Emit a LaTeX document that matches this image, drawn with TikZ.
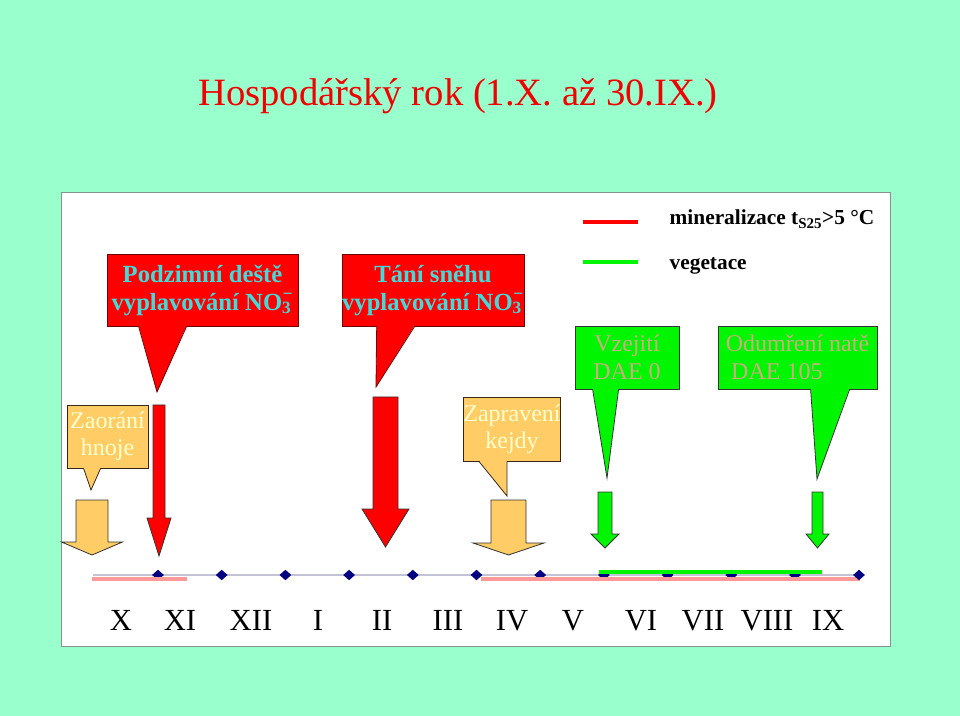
\documentclass[tikz,border=0pt]{standalone}
\usepackage{fontspec}
\setmainfont{Liberation Serif}
\usepackage{xcolor}
\definecolor{mint}{RGB}{153,255,204}
\definecolor{panelgray}{RGB}{130,150,140}
\definecolor{titlered}{RGB}{240,0,0}
\definecolor{calred}{RGB}{255,0,0}
\definecolor{darkred}{RGB}{110,0,0}
\definecolor{cyantext}{RGB}{64,220,220}
\definecolor{leaf}{RGB}{0,245,0}
\definecolor{tantext}{RGB}{200,175,125}
\definecolor{manure}{RGB}{255,204,102}
\definecolor{cream}{RGB}{255,255,204}
\definecolor{navy}{RGB}{0,0,128}
\definecolor{pinkline}{RGB}{255,153,153}
\definecolor{axisgray}{RGB}{195,195,215}
\usepackage{tikz}
\usetikzlibrary{shapes.geometric,calc}

\begin{document}
\begin{tikzpicture}[x=0.75pt, y=-0.75pt,
    redbox/.style={rectangle, fill=calred, draw=darkred, line width=0.6pt,
        inner sep=0pt, align=center, text=cyantext,
        font=\fontsize{18.5}{21}\selectfont\bfseries},
    greenbox/.style={rectangle, fill=leaf, draw=black!80, line width=0.6pt,
        inner sep=0pt, align=center, text=tantext,
        font=\fontsize{18}{21}\selectfont},
    orangebox/.style={rectangle, fill=manure, draw=black!70!brown, line width=0.6pt,
        inner sep=0pt, align=center, text=cream,
        font=\fontsize{18}{20}\selectfont},
    monthdot/.style={diamond, fill=navy, inner sep=0pt, minimum width=9pt, minimum height=8pt},
    month/.style={anchor=base, font=\fontsize{23}{25}\selectfont},
    legendtext/.style={anchor=base west, font=\fontsize{16}{18}\selectfont\bfseries}]
    % background and panel
    \fill[mint] (0,0) rectangle (960,716);
    \useasboundingbox (0,0) rectangle (960,716);
    \filldraw[fill=white, draw=panelgray, line width=0.6pt] (61,192) rectangle (890,646);
    \node (title) [anchor=base, text=titlered, font=\fontsize{29}{32}\selectfont] at (458,106)
        {Hospodářský rok (1.X. až 30.IX.)};
    % legend
    \draw[calred, line width=3pt] (583,222) -- (638,222);
    \draw[leaf, line width=3pt] (583,262) -- (638,262);
    \node (minlbl) [legendtext] at (665,225) {mineralizace t\textsubscript{S25}>5 °C};
    \node (veglbl) [legendtext] at (665,270) {vegetace};
    % callouts
    \node (rain) [redbox, minimum width=143.25pt, minimum height=54pt] at (202.5,290)
        {Podzimní deště\\vyplavování NO\rlap{\textsubscript{3}}\kern0.5pt\raisebox{2pt}{\textsuperscript{−}}};
    \node (thaw) [redbox, minimum width=132pt, minimum height=54pt] at (433,290)
        {Tání sněhu\\vyplavování NO\rlap{\textsubscript{3}}\kern0.5pt\raisebox{2pt}{\textsuperscript{−}}};
    \node (rise) [greenbox, minimum width=78pt, minimum height=47.25pt] at (627,357.5)
        {Vzejití\\DAE 0};
    \node (die) [greenbox, align=left, minimum width=119.25pt, minimum height=47.25pt] at (797.5,357.5)
        {Odumření natě\\\hspace*{4pt}DAE 105};
    \node (plough) [orangebox, minimum width=60.75pt, minimum height=47.25pt] at (107.5,436.5)
        {Zaorání\\hnoje};
    \node (slurry) [orangebox, minimum width=72pt, minimum height=48pt] at (512,429)
        {Zapravení\\kejdy};
    % callout tails
    \foreach \n/\a/\b/\tx/\ty/\col/\bd in {rain/32/80/157/392/calred/darkred,
        thaw/35/73/376/387/calred/darkred, rise/18/44/607/478/leaf/black!80,
        die/93/132/817/479/leaf/black!80, plough/17/34/91/490/manure/black!70!brown,
        slurry/16/44/507/496/manure/black!70!brown} {
        \fill[\col] ($(\n.south west)+(\a,-1)$) -- (\tx,\ty) -- ($(\n.south west)+(\b,-1)$) -- cycle;
        \draw[\bd, line width=0.6pt] ($(\n.south west)+(\a,0)$) -- (\tx,\ty) -- ($(\n.south west)+(\b,0)$);
    }
    % block arrows
    \foreach \cx/\sw/\ty/\hw/\hy/\tipy/\col in {92/16/500/30.5/542/555/manure,
        159/6/405/12/518/556/calred, 385.5/12.5/397/23.5/509/547/calred,
        508.5/17.5/500/35.5/543/555/manure, 605/7/492/14/534/548/leaf,
        817.5/5.5/492/11.5/534/548/leaf} {
        \filldraw[fill=\col, draw=black!80, line width=0.6pt]
            (\cx-\sw,\ty) -- (\cx+\sw,\ty) -- (\cx+\sw,\hy) -- (\cx+\hw,\hy)
            -- (\cx,\tipy) -- (\cx-\hw,\hy) -- (\cx-\sw,\hy) -- cycle;
    }
    % time axis
    \draw[axisgray, line width=0.8pt] (93,575) -- (860,575);
    \foreach \i in {0,...,10}
        \node (d\i) [monthdot] at ({158+63.7*\i},575) {};
    \draw[pinkline, line width=3pt] (92,579) -- (187,579);
    \draw[pinkline, line width=3pt] (481,579) -- (860,579);
    \draw[leaf, line width=3pt] (599,572) -- (822,572);
    \node (d11) [monthdot] at (859,575) {};
    \foreach \m/\x in {X/121, XI/180, XII/251, I/318, II/382, III/448,
        IV/512, V/573, VI/641, VII/703, VIII/767, IX/828}
        \node (\m) [month] at (\x,630) {\m};
\end{tikzpicture}
\end{document}
